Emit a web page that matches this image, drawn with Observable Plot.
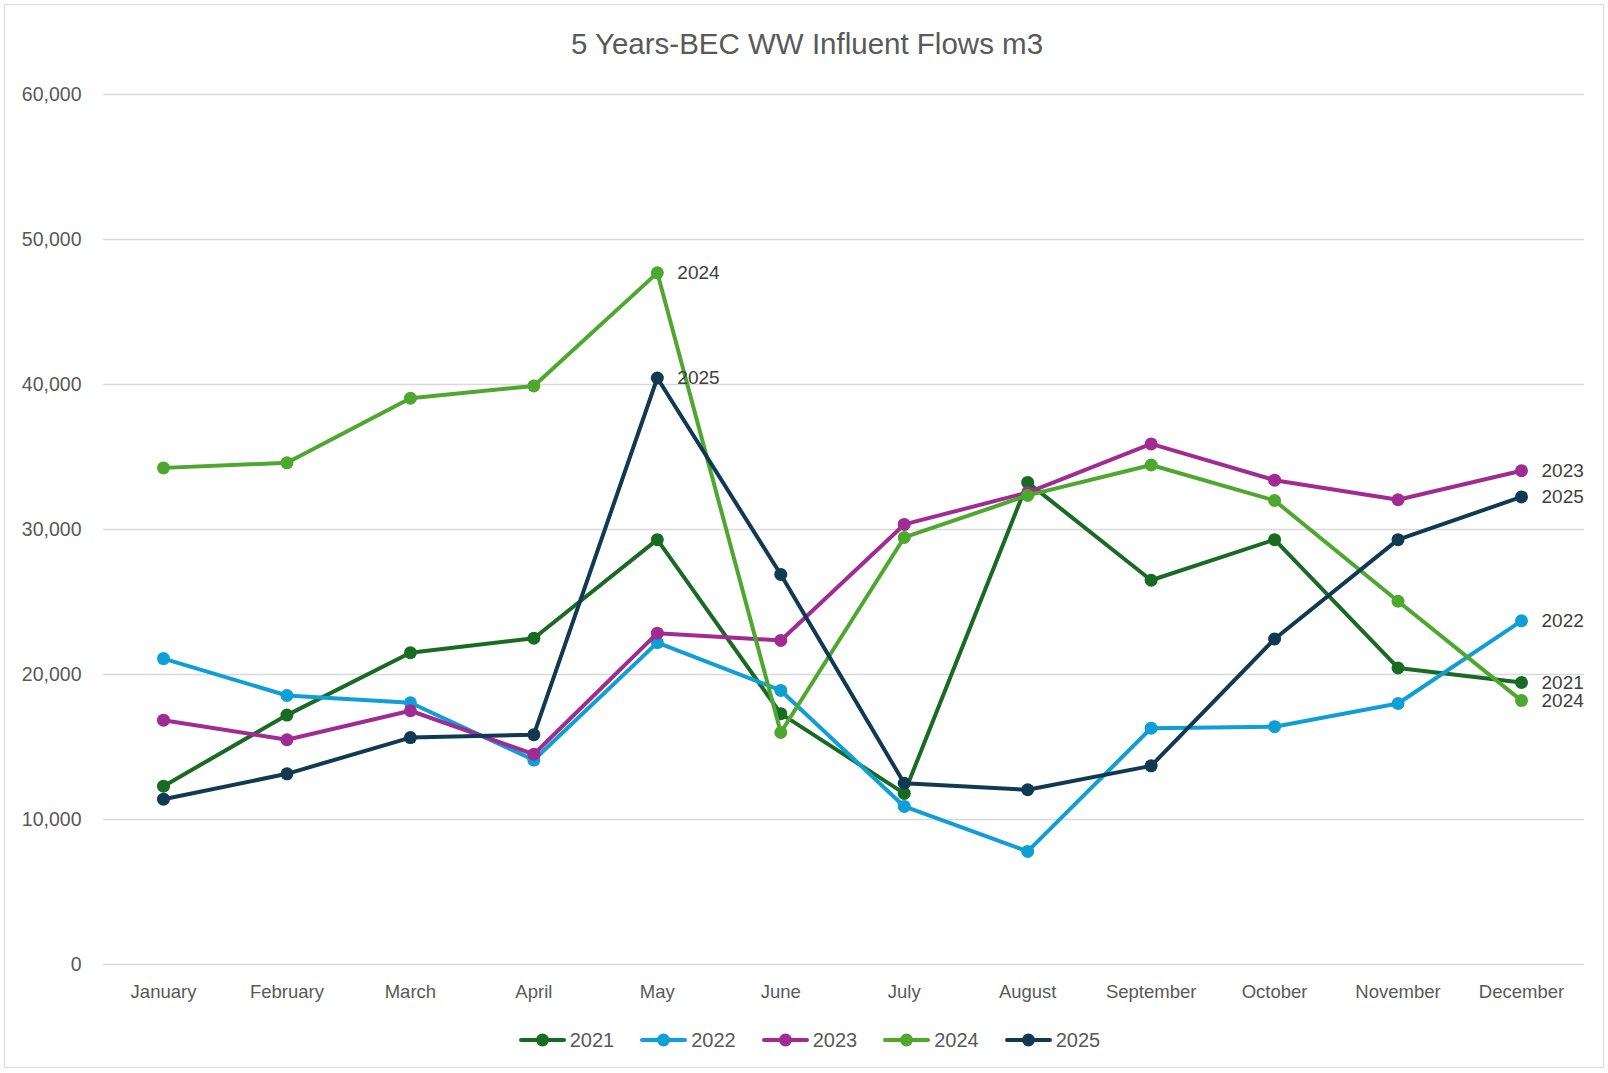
<!DOCTYPE html>
<html>
<head>
<meta charset="utf-8">
<script src="https://cdn.jsdelivr.net/npm/d3@7"></script>
<script src="https://cdn.jsdelivr.net/npm/@observablehq/plot@0.6"></script>
<style>
  html, body { margin: 0; padding: 0; background: #fff; }
  #page { position: relative; width: 1608px; height: 1073px; overflow: hidden; font-family: "Liberation Sans", Arial, sans-serif; }
  #frame { position: absolute; left: 4px; top: 4px; width: 1600px; height: 1064px; border: 1.5px solid #d9d9d9; box-sizing: border-box; }
  #title { position: absolute; left: 0; width: 1614px; top: 26px; text-align: center; font-size: 29.5px; color: #595959; line-height: 36px; }
  #chart { position: absolute; left: 0; top: 74px; }
  #legend { position: absolute; left: 0; width: 1619px; top: 1027px; height: 26px; display: flex; justify-content: center; align-items: center; gap: 26px; font-size: 20px; color: #595959; }
  .item { display: flex; align-items: center; gap: 4px; }
</style>
</head>
<body>
<div id="page">
  <div id="frame"></div>
  <div id="title">5 Years-BEC WW Influent Flows m3</div>
  <div id="chart"></div>
  <div id="legend"></div>
</div>
<script>
const months = ["January","February","March","April","May","June","July","August","September","October","November","December"];
const years = ["2021","2022","2023","2024","2025"];
const colors = ["#196b24","#0f9ed5","#a02b93","#4ea72e","#0f3a52"];

const flows2021 = [12300,17200,21500,22500,29300,17300,11800,33250,26500,29300,20450,19450];
const flows2022 = [21100,18550,18050,14100,22200,18900,10900,7800,16300,16400,18000,23700];
const flows2023 = [16850,15500,17500,14500,22850,22350,30350,32550,35900,33400,32050,34050];
const flows2024 = [34250,34600,39050,39900,47700,16000,29450,32350,34450,32000,25050,18200];
const flows2025 = [11400,13150,15650,15850,40450,26900,12500,12050,13700,22450,29300,32250];

const yTicks = [0,10000,20000,30000,40000,50000,60000];
const labelPoints = [["2024","May"],["2025","May"],["2023","December"],["2025","December"],["2022","December"],["2021","December"],["2024","December"]];

const series = [flows2021, flows2022, flows2023, flows2024, flows2025];
const data = [];
years.forEach((yr, i) => months.forEach((m, j) => data.push({year: yr, month: m, value: series[i][j]})));
const labels = labelPoints.map(([yr, m]) => data.find(d => d.year === yr && d.month === m));

const marks = [
  Plot.gridY(yTicks, {stroke: "#d9d9d9", strokeOpacity: 1, strokeWidth: 1.5}),
  Plot.axisY(yTicks, {tickSize: 0, tickPadding: 22, tickFormat: d3.format(","), fontSize: 19.5, fill: "#595959"}),
  Plot.axisX({tickSize: 0, tickPadding: 20, fontSize: 18.5, fill: "#595959"})
];
years.forEach(yr => {
  const sub = data.filter(d => d.year === yr);
  marks.push(Plot.line(sub, {x: "month", y: "value", stroke: "year", strokeWidth: 4, strokeLinejoin: "round", strokeLinecap: "round"}));
  marks.push(Plot.dot(sub, {x: "month", y: "value", fill: "year", r: 6.5, stroke: "none"}));
});
marks.push(Plot.text(labels, {x: "month", y: "value", text: "year", dx: 20, textAnchor: "start", fontSize: 19, fill: "#404040"}));

const chart = Plot.plot({
  width: 1608,
  height: 950,
  marginLeft: 103,
  marginRight: 24,
  marginTop: 20,
  marginBottom: 60,
  style: {fontFamily: "'Liberation Sans', Arial, sans-serif", background: "transparent", overflow: "visible"},
  x: {type: "point", domain: months, range: [163, 1521], padding: 0, round: false, label: null},
  y: {domain: [0, 60000], label: null},
  color: {domain: years, range: colors},
  marks
});
document.getElementById("chart").appendChild(chart);

const legend = document.getElementById("legend");
years.forEach((yr, i) => {
  const item = document.createElement("div");
  item.className = "item";
  item.innerHTML = `<svg width="47" height="14"><line x1="2" x2="45" y1="7" y2="7" stroke="${colors[i]}" stroke-width="4" stroke-linecap="round"/><circle cx="23.5" cy="7" r="6.5" fill="${colors[i]}"/></svg><span>${yr}</span>`;
  legend.appendChild(item);
});
</script>
</body>
</html>
